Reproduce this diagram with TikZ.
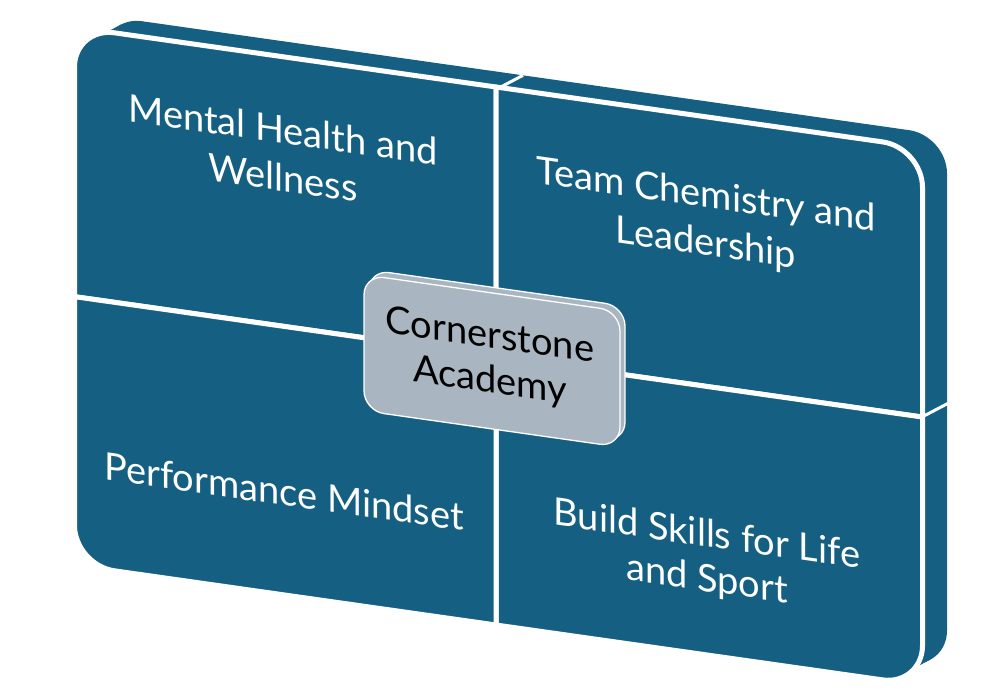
\documentclass[tikz,border=0pt]{standalone}
\usepackage{fontspec}
\setmainfont{Lato}
\definecolor{tealm}{HTML}{156082}
\definecolor{boxgrey}{HTML}{A9B5C0}
\begin{document}
\begin{tikzpicture}[x=1pt,y=1pt,
  quad/.style={fill=tealm, draw=white, line width=5pt, line join=round},
  seam/.style={draw=white, line width=3pt},
  lbl/.style={text=white, font=\fontsize{38}{46}\selectfont, transform shape, anchor=base, inner sep=0pt},
  clbl/.style={lbl, text=black},
  cbox/.style={fill=boxgrey, draw=white, line width=1.3pt}]
\useasboundingbox (0,0) rectangle (990,-698);
\begin{scope}[cm={1,-0.142,0,1,(0,10.934)}]
  % extrusion (side faces)
  \fill[tealm] (104,-507) -- (104,-50) arc[start angle=180,end angle=90,radius=38]
     -- (909,-12) arc[start angle=90,end angle=0,radius=38]
     -- (947,-507) arc[start angle=0,end angle=-90,radius=38]
     -- (142,-545) arc[start angle=270,end angle=180,radius=38] -- cycle;
  \fill[tealm] (93.9,-36.4) -- (120.9,-18.4) -- (930.1,-538.6) -- (903.1,-556.6) -- cycle;
  \draw[seam] (496,-30) -- (523,-12);
  \draw[seam] (922,-297) -- (949,-279);
  % front quadrants
  \draw[quad] (74.5,-297) -- (74.5,-67.5) arc[start angle=180,end angle=90,radius=40] -- (496,-27.5) -- (496,-297) -- cycle;
  \draw[quad] (496,-27.5) -- (882.5,-27.5) arc[start angle=90,end angle=0,radius=40] -- (922.5,-297) -- (496,-297) -- cycle;
  \draw[quad] (496,-297) -- (922.5,-297) -- (922.5,-525.5) arc[start angle=0,end angle=-90,radius=40] -- (496,-565.5) -- cycle;
  \draw[quad] (74.5,-297) -- (496,-297) -- (496,-565.5) -- (114.5,-565.5) arc[start angle=270,end angle=180,radius=40] -- cycle;
  % centre box
  \draw[cbox] (369,-344.3) -- (369,-248.3) arc[start angle=180,end angle=90,radius=20]
     -- (605,-228.3) arc[start angle=90,end angle=0,radius=20]
     -- (625,-344.3) arc[start angle=0,end angle=-90,radius=20]
     -- (389,-364.3) arc[start angle=270,end angle=180,radius=20] -- cycle;
  \draw[cbox] (364,-350) -- (364,-254) arc[start angle=180,end angle=90,radius=20]
     -- (600,-234) arc[start angle=90,end angle=0,radius=20]
     -- (620,-350) arc[start angle=0,end angle=-90,radius=20]
     -- (384,-370) arc[start angle=270,end angle=180,radius=20] -- cycle;
  % labels
  \node[lbl] (tl1) at (283,-114) {Mental Health and};
  \node[lbl] (tl2) at (283,-162) {Wellness};
  \node[lbl] (tr1) at (706,-118) {Team Chemistry and};
  \node[lbl] (tr2) at (706,-166) {Leadership};
  \node[lbl] (bl1) at (284,-476) {Performance Mindset};
  \node[lbl] (br1) at (707,-457) {Build Skills for Life};
  \node[lbl] (br2) at (707,-502) {and Sport};
  \node[clbl] (c1) at (490,-289) {Cornerstone};
  \node[clbl] (c2) at (490,-334) {Academy};
\end{scope}
\end{tikzpicture}
\end{document}
